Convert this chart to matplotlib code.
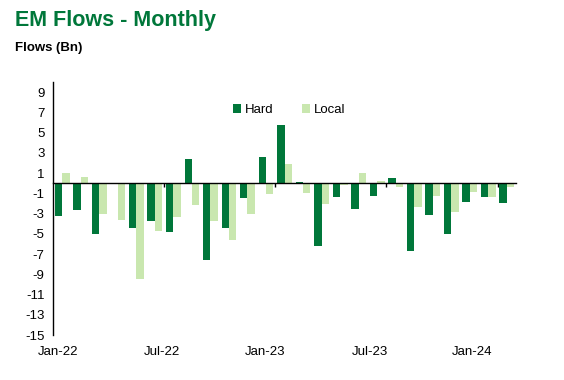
import matplotlib
matplotlib.use('Agg')
import matplotlib.pyplot as plt
import matplotlib.transforms as mtransforms
import numpy as np

# ── Data: monthly EM flows (Bn), Jan-22 .. Jan-24 ──
months = ['Jan-22', 'Feb-22', 'Mar-22', 'Apr-22', 'May-22', 'Jun-22',
          'Jul-22', 'Aug-22', 'Sep-22', 'Oct-22', 'Nov-22', 'Dec-22',
          'Jan-23', 'Feb-23', 'Mar-23', 'Apr-23', 'May-23', 'Jun-23',
          'Jul-23', 'Aug-23', 'Sep-23', 'Oct-23', 'Nov-23', 'Dec-23',
          'Jan-24']
hard = [-3.2, -2.6, -5.0, 0.0, -4.4, -3.7, -4.8, 2.4, -7.6, -4.4, -1.5, 2.6,
        5.8, 0.15, -6.2, -1.4, -2.5, -1.3, 0.55, -6.7, -3.1, -5.0, -1.8, -1.4,
        -1.9]
local = [1.0, 0.6, -3.0, -3.6, -9.5, -4.7, -3.3, -2.1, -3.7, -5.6, -3.0, -1.1,
         1.9, -1.0, -2.0, -0.13, 1.0, 0.25, -0.4, -2.3, -1.3, -2.8, -0.9, -1.4,
         -0.4]
label_months = ['Jan-22', 'Jul-22', 'Jan-23', 'Jul-23', 'Jan-24']
# Excel places the date labels slightly drifting left of the 6-month boundaries
label_pos = [-0.25, 5.4, 10.95, 16.6, 22.1]

HARD_COL = '#00773A'
LOCAL_COL = '#C9E7AF'
TITLE_COL = '#00773A'

plt.rcParams['font.family'] = ['Liberation Sans', 'DejaVu Sans']
plt.rcParams['axes.unicode_minus'] = False

x = np.arange(len(months))
w = 0.4

fig = plt.figure(figsize=(5.64, 3.8), dpi=100)
fig.patch.set_facecolor('white')
ax = fig.add_axes([0.094, 0.118, 0.821, 0.666])

ax.bar(x - w / 2, hard, width=w, color=HARD_COL, label='Hard', zorder=2)
ax.bar(x + w / 2, local, width=w, color=LOCAL_COL, label='Local', zorder=2)

ax.set_xlim(-0.5, len(months) - 0.5)
ax.set_ylim(-15, 10)
ax.set_yticks(np.arange(-15, 10, 2))
ax.tick_params(axis='y', length=0, labelsize=9.5, pad=6)

# x axis drawn at zero with small tick marks at 6-month boundaries
ax.spines['bottom'].set_position(('data', 0))
ax.spines['bottom'].set_linewidth(1.0)
ax.spines['left'].set_linewidth(1.0)
ax.spines['top'].set_visible(False)
ax.spines['right'].set_visible(False)
ax.set_xticks(np.arange(5.5, len(months), 6))
ax.set_xticklabels([])
ax.tick_params(axis='x', length=3, width=1, direction='out')

trans = mtransforms.blended_transform_factory(ax.transData, ax.transAxes)
for pos, lab in zip(label_pos, label_months):
    ax.text(pos, -0.068, lab, transform=trans, ha='center', va='center',
            fontsize=9.5)

ax.legend(loc='upper center', bbox_to_anchor=(0.51, 0.96), ncol=2,
          frameon=False, fontsize=9.5, handlelength=0.6, handleheight=0.6,
          handletextpad=0.3, columnspacing=2.2)

fig.text(0.027, 0.947, 'EM Flows - Monthly', fontsize=15.5, fontweight='bold',
         color=TITLE_COL, va='center', ha='left')
fig.text(0.027, 0.874, 'Flows (Bn)', fontsize=9.5, fontweight='bold',
         color='black', va='center', ha='left')

fig.savefig('out.png', dpi=100, facecolor='white')
plt.close(fig)
